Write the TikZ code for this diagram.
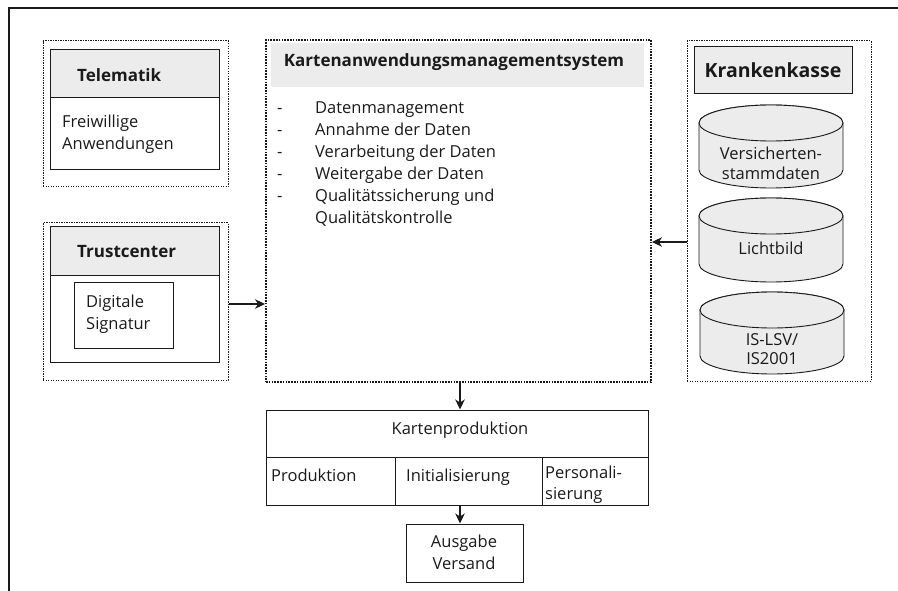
\documentclass[tikz,border=0pt]{standalone}
\usepackage{fontspec}
\setmainfont{Open Sans}
\usetikzlibrary{arrows.meta}
\definecolor{hdr}{HTML}{ECECED}
\definecolor{ink}{HTML}{1A1A1A}
\begin{document}
\begin{tikzpicture}[x=1pt,y=-1pt,
  dotbox/.style={draw=ink,line width=1pt,dash pattern=on 1.4pt off 1.1pt,inner sep=0},
  dotthick/.style={draw=ink,line width=1.9pt,dash pattern=on 1.6pt off 1.2pt,inner sep=0},
  solidbox/.style={draw=ink,line width=1pt,inner sep=0},
  hdrbox/.style={solidbox,fill=hdr},
  txt/.style={font=\fontsize{16.5}{22}\selectfont,text=ink,inner sep=0,align=left},
  ctxt/.style={txt,align=center},
  btxt/.style={font=\bfseries\fontsize{17}{22}\selectfont,text=ink,inner sep=0},
  arr/.style={-{Stealth[length=10pt,width=9.5pt,inset=3pt]},line width=1.1pt,draw=ink},
  cyl/.style={draw=ink,line width=0.9pt,fill=hdr}]
\useasboundingbox (0,0) rectangle (898,591);
% outer frame
\draw[ink,line width=1.8pt] (900,8) -- (9,8) -- (9,600);

% Telematik
\node[dotbox,minimum width=185pt,minimum height=146pt] (telo) at (135.5,114) {};
\node[solidbox,minimum width=169pt,minimum height=120pt] (teli) at (134.5,110) {};
\node[hdrbox,minimum width=169pt,minimum height=48pt] (telh) at (134.5,74) {};
\node[btxt,anchor=west] (telt) at (77,75) {Telematik};
\node[txt,anchor=north west] (telb) at (62,115) {Freiwillige\\Anwendungen};

% Trustcenter
\node[dotbox,minimum width=185pt,minimum height=157pt] (tro) at (135.5,301.5) {};
\node[solidbox,minimum width=169pt,minimum height=135pt] (tri) at (134.5,294.5) {};
\node[hdrbox,minimum width=169pt,minimum height=48pt] (trh) at (134.5,251) {};
\node[btxt,anchor=west] (trt) at (77,252) {Trustcenter};
\node[solidbox,minimum width=99pt,minimum height=66pt] (sig) at (123.5,315) {};
\node[txt,anchor=north west] (sigt) at (86,295) {Digitale\\Signatur};

% Kartenanwendungsmanagementsystem
\node[dotthick,minimum width=385pt,minimum height=342pt] (kams) at (458.5,211) {};
\node[fill=hdr,inner sep=0,minimum width=373pt,minimum height=44pt] (kamsh) at (457.5,65) {};
\node[btxt] (kamst) at (454,62) {Kartenanwendungsmanagementsystem};
\node[txt,anchor=north west] (kamsl) at (277,102) {%
\makebox[38pt][l]{-}Datenmanagement\\
\makebox[38pt][l]{-}Annahme der Daten\\
\makebox[38pt][l]{-}Verarbeitung der Daten\\
\makebox[38pt][l]{-}Weitergabe der Daten\\
\makebox[38pt][l]{-}Qualitätssicherung und\\
\hspace*{38pt}Qualitätskontrolle};

% Krankenkasse
\node[dotbox,minimum width=184pt,minimum height=340pt] (kk) at (779,211) {};
\node[hdrbox,minimum width=158pt,minimum height=47pt,font=\bfseries\fontsize{19.5}{24}\selectfont,text=ink] (kkh) at (773,70.5) {Krankenkasse};

% cylinders
\filldraw[cyl] (699,123) -- (699,170) arc[start angle=180,end angle=360,x radius=72pt,y radius=18pt] -- (843,123) arc[start angle=0,end angle=180,x radius=72pt,y radius=18pt] -- cycle;
\draw[cyl] (771,123) ellipse[x radius=72pt,y radius=18pt];
\node[ctxt,font=\fontsize{16.5}{20}\selectfont] (vsd) at (771,163) {Versicherten-\\stammdaten};

\filldraw[cyl] (699,216) -- (699,264) arc[start angle=180,end angle=360,x radius=72pt,y radius=18pt] -- (843,216) arc[start angle=0,end angle=180,x radius=72pt,y radius=18pt] -- cycle;
\draw[cyl] (771,216) ellipse[x radius=72pt,y radius=18pt];
\node[ctxt] (lb) at (771,248) {Lichtbild};

\filldraw[cyl] (700,310) -- (700,356) arc[start angle=180,end angle=360,x radius=72pt,y radius=18pt] -- (844,310) arc[start angle=0,end angle=180,x radius=72pt,y radius=18pt] -- cycle;
\draw[cyl] (772,310) ellipse[x radius=72pt,y radius=18pt];
\node[ctxt,font=\fontsize{16.5}{19}\selectfont] (is) at (772,349) {IS-LSV/\\IS2001};

% Kartenproduktion
\node[solidbox,minimum width=382pt,minimum height=47pt] (kp) at (457,433.5) {};
\node[ctxt,anchor=center] (kpt) at (460,430) {Kartenproduktion};
\node[solidbox,minimum width=129pt,minimum height=48pt] (c1) at (330.5,481) {};
\node[solidbox,minimum width=147pt,minimum height=48pt] (c2) at (468.5,481) {};
\node[solidbox,minimum width=106pt,minimum height=48pt] (c3) at (595,481) {};
\node[txt,anchor=north west] (c1t) at (271,469) {Produktion};
\node[txt,anchor=north west] (c2t) at (406,469) {Initialisierung};
\node[txt,anchor=north west,font=\fontsize{16.5}{21}\selectfont] (c3t) at (545,466) {Personali-\\sierung};

% Ausgabe
\node[solidbox,minimum width=117pt,minimum height=58pt] (aus) at (464.5,553) {};
\node[ctxt,anchor=north] (aust) at (464,535) {Ausgabe\\Versand};

% connectors
\draw[arr] (tro.east |- 0,304) -- (kams.west |- 0,304);
\draw[arr] (kk.west |- 0,242) -- (kams.east |- 0,242);
\draw[arr] (kams.south -| 460,0) -- (kp.north -| 460,0);
\draw[arr] (c2.south -| 460,0) -- (aus.north -| 460,0);
\end{tikzpicture}
\end{document}
